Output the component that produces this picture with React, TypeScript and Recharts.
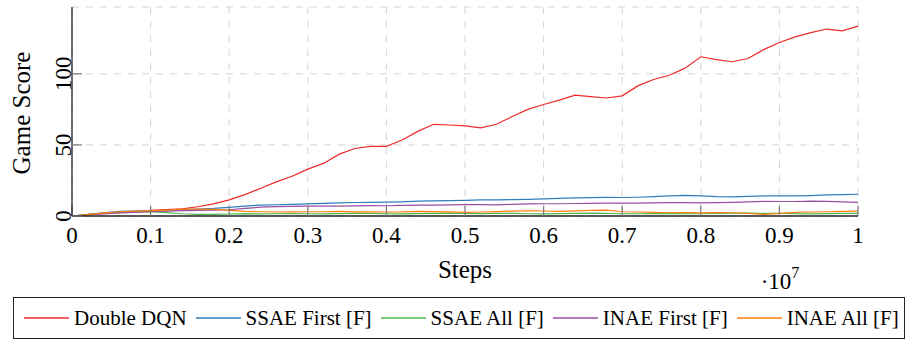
import React from "react";
import { LineChart, Line, XAxis, YAxis, CartesianGrid } from "recharts";

// steps, in units of 10^7
const steps = [
  0, 0.02, 0.04, 0.06, 0.08, 0.1, 0.12, 0.14, 0.16, 0.18, 0.2, 0.22, 0.24, 0.26, 0.28, 0.3, 0.32, 0.34, 0.36, 0.38,
  0.4, 0.42, 0.44, 0.46, 0.48, 0.5, 0.52, 0.54, 0.56, 0.58, 0.6, 0.62, 0.64, 0.66, 0.68, 0.7, 0.72, 0.74, 0.76, 0.78,
  0.8, 0.82, 0.84, 0.86, 0.88, 0.9, 0.92, 0.94, 0.96, 0.98, 1,
];

const doubleDqn = [
  0, 1, 2, 2.5, 3, 4, 4.5, 5, 6.5, 8.5, 11.3, 15, 19.5, 24, 28, 33, 37, 43.5, 47.5, 49,
  49, 53.5, 59.5, 64.5, 64, 63.4, 62, 64.5, 70, 75, 78.4, 81.5, 85, 84, 83, 84.5, 91.5, 96, 99, 104,
  112, 110, 108.5, 110.8, 117, 122, 126, 129, 131.5, 130.2, 133.6,
];

const ssaeFirst = [
  0, 1.2, 2.2, 3.3, 3.4, 3.6, 3.8, 4.3, 4.8, 5.3, 6.1, 7, 7.7, 7.9, 8.2, 8.5, 8.9, 9.3, 9.5, 9.6,
  9.8, 10, 10.4, 10.6, 10.8, 11, 11.3, 11.4, 11.5, 11.7, 12, 12.4, 12.8, 12.9, 13.1, 13, 13.2, 13.6, 14.1, 14.5,
  14.1, 13.6, 13.4, 13.8, 14.1, 14.2, 14.2, 14.4, 14.8, 15, 15.3,
];

const ssaeAll = [
  0, 1, 1.8, 2.3, 2.8, 3, 2.4, 1.6, 1.2, 1.2, 1.4, 1.6, 1.5, 1.6, 1.7, 1.6, 1.5, 1.7, 1.9, 1.8,
  1.6, 1.5, 1.7, 1.9, 2, 1.8, 1.7, 1.9, 1.8, 1.6, 1.5, 1.7, 1.9, 2, 1.8, 1.6, 1.6, 1.7, 1.8, 1.6,
  1.6, 1.8, 2, 2.1, 1.9, 1.8, 1.6, 1.5, 1.7, 1.8, 1.9,
];

const inaeFirst = [
  0, 0.8, 1.5, 2.2, 2.6, 3, 3.4, 3.8, 4, 4.2, 4.4, 5.3, 6.2, 6.6, 6.8, 7, 7, 6.9, 7.1, 7.3,
  7.2, 7.5, 7.7, 7.6, 7.8, 8, 8, 7.8, 8.2, 8.5, 8.6, 8.6, 8.8, 8.9, 9, 9.1, 9, 9.2, 9.4, 9.4,
  9.3, 9.4, 9.6, 10, 10.3, 10.2, 10.2, 10.4, 10.3, 9.9, 9.6,
];

const inaeAll = [
  0, 1, 2, 3, 3.4, 3.8, 4.2, 4.8, 4.9, 4.7, 3.9, 3.3, 3, 2.8, 2.9, 3, 3, 3.2, 2.9, 3,
  2.8, 2.9, 3.3, 3.1, 2.9, 2.6, 2.8, 3.1, 3.4, 3.7, 3.5, 3.3, 3.6, 3.9, 4.1, 3, 2.8, 2.5, 2.3, 2.4,
  2.2, 2.4, 2.3, 1.8, 1.1, 1.9, 2.6, 2.8, 3, 3.2, 3.4,
];

const xTicks = [0, 0.1, 0.2, 0.3, 0.4, 0.5, 0.6, 0.7, 0.8, 0.9, 1];
const yTicks = [0, 50, 100];

const seriesList = [
  { key: "ddqn", name: "Double DQN", color: "#ee2a2a", values: doubleDqn },
  { key: "ssaeFirst", name: "SSAE First [F]", color: "#2f7dbd", values: ssaeFirst },
  { key: "ssaeAll", name: "SSAE All [F]", color: "#4cb84c", values: ssaeAll },
  { key: "inaeFirst", name: "INAE First [F]", color: "#984ea3", values: inaeFirst },
  { key: "inaeAll", name: "INAE All [F]", color: "#ff7f0e", values: inaeAll },
];

const data = steps.map((s, i) => {
  const row: any = { step: s };
  seriesList.forEach((ser) => {
    row[ser.key] = ser.values[i];
  });
  return row;
});

const FONT = "Liberation Serif, Times New Roman, serif";
const TICK_LEN = -10; // inward ticks, pgfplots style
const tickLineStyle = { stroke: "#7a7a7a", strokeWidth: 1.2 };
const axisLineStyle = { stroke: "#222", strokeWidth: 1.3 };

const Legend = () => (
  <div
    style={{
      position: "absolute",
      left: 13,
      top: 297,
      width: 892,
      height: 42,
      border: "1.3px solid #222",
      display: "flex",
      alignItems: "center",
      paddingLeft: 10,
      boxSizing: "border-box",
      fontFamily: FONT,
      fontSize: 21,
      color: "#000",
      whiteSpace: "nowrap",
    }}
  >
    {seriesList.map((ser) => (
      <div key={ser.key} style={{ display: "flex", alignItems: "center", marginRight: 9 }}>
        <svg width={45} height={10} style={{ marginRight: 5 }}>
          <line x1={0} y1={5} x2={45} y2={5} stroke={ser.color} strokeWidth={1.3} />
        </svg>
        <span>{ser.name}</span>
      </div>
    ))}
  </div>
);

export default function App() {
  return (
    <div style={{ position: "absolute", left: 0, top: 0, width: 908, height: 342, background: "#fff" }}>
      <LineChart width={908} height={342} data={data} margin={{ top: 7, right: 50, left: 0, bottom: 0 }}>
        <CartesianGrid stroke="#d4d4d4" strokeDasharray="7 7" strokeWidth={1} />
        <XAxis
          dataKey="step"
          type="number"
          domain={[0, 1]}
          ticks={xTicks}
          height={126}
          tickSize={TICK_LEN}
          tickMargin={21}
          tickLine={tickLineStyle}
          axisLine={axisLineStyle}
          tick={{ fontSize: 23, fontFamily: FONT, fill: "#000" }}
          interval={0}
        />
        <XAxis
          xAxisId="top"
          orientation="top"
          dataKey="step"
          type="number"
          domain={[0, 1]}
          ticks={xTicks}
          height={0}
          tickSize={TICK_LEN}
          tickMargin={0}
          tickLine={tickLineStyle}
          axisLine={axisLineStyle}
          tick={{ fontSize: 0, fill: "none" }}
          interval={0}
        />
        <YAxis
          type="number"
          domain={[0, 147]}
          ticks={yTicks}
          width={72}
          tickSize={TICK_LEN}
          tickMargin={19}
          tickLine={tickLineStyle}
          axisLine={axisLineStyle}
          angle={-90}
          tick={{ fontSize: 23, fontFamily: FONT, fill: "#000", textAnchor: "middle", verticalAnchor: "end" }}
          interval={0}
        />
        <YAxis
          yAxisId="right"
          orientation="right"
          type="number"
          domain={[0, 147]}
          ticks={yTicks}
          width={0}
          tickSize={TICK_LEN}
          tickMargin={0}
          tickLine={tickLineStyle}
          axisLine={axisLineStyle}
          tick={{ fontSize: 0, fill: "none" }}
          interval={0}
        />
        {seriesList.map((ser) => (
          <Line
            key={ser.key}
            type="linear"
            dataKey={ser.key}
            name={ser.name}
            stroke={ser.color}
            strokeWidth={1.2}
            dot={false}
            isAnimationActive={false}
          />
        ))}
      </LineChart>
      <svg
        width={908}
        height={342}
        style={{ position: "absolute", left: 0, top: 0, pointerEvents: "none" }}
      >
        <text
          x={30}
          y={113}
          textAnchor="middle"
          fontFamily={FONT}
          fontSize={25}
          fill="#000"
          transform="rotate(-90, 30, 113)"
        >
          Game Score
        </text>
        <text x={465} y={278} textAnchor="middle" fontFamily={FONT} fontSize={25} fill="#000">
          Steps
        </text>
        <text x={780} y={289} textAnchor="middle" fontFamily={FONT} fontSize={23} fill="#000">
          ·10
          <tspan fontSize={16} dy={-11}>
            7
          </tspan>
        </text>
      </svg>
      <Legend />
    </div>
  );
}
